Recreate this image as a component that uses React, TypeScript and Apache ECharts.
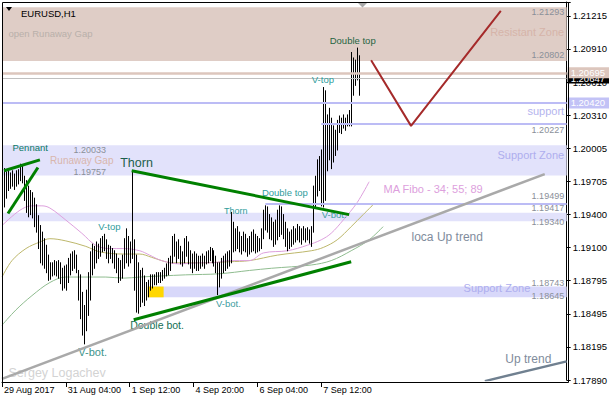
import React, { useEffect, useRef } from 'react';
import * as echarts from 'echarts';

const FONT = 'Liberation Sans';

// H1 bars: highs and lows (price)
const barHigh = [
  1.1976, 1.1982, 1.1979, 1.1980, 1.1978, 1.1980, 1.1977, 1.1980, 1.1981, 1.1986,
  1.1984, 1.1975, 1.1971, 1.1966, 1.1962, 1.1960, 1.1955, 1.1949, 1.1939, 1.1930,
  1.1924, 1.1918, 1.1912, 1.1903, 1.1896, 1.1896, 1.1898, 1.1897, 1.1898, 1.1896,
  1.1891, 1.1893, 1.1894, 1.1900, 1.1904, 1.1906, 1.1907, 1.1903, 1.1889, 1.1885,
  1.1869, 1.1857, 1.1871, 1.1887, 1.1906, 1.1913, 1.1911, 1.1915, 1.1913, 1.1918,
  1.1920, 1.1922, 1.1917, 1.1912, 1.1911, 1.1909, 1.1907, 1.1904, 1.1900, 1.1898,
  1.1903, 1.1918, 1.1927, 1.1920, 1.1915, 1.1980, 1.1917, 1.1903, 1.1896, 1.1889,
  1.1891, 1.1884, 1.1878, 1.1880, 1.1885, 1.1885, 1.1885, 1.1887, 1.1887, 1.1887,
  1.1889, 1.1891, 1.1895, 1.1900, 1.1902, 1.1920, 1.1922, 1.1915, 1.1917, 1.1911,
  1.1906, 1.1918, 1.1920, 1.1915, 1.1907, 1.1904, 1.1906, 1.1904, 1.1902, 1.1902,
  1.1904, 1.1902, 1.1906, 1.1907, 1.1910, 1.1909, 1.1907, 1.1902, 1.1896, 1.1896,
  1.1900, 1.1902, 1.1904, 1.1906, 1.1907, 1.1942, 1.1933, 1.1927, 1.1929, 1.1924,
  1.1920, 1.1924, 1.1922, 1.1918, 1.1920, 1.1924, 1.1926, 1.1922, 1.1920, 1.1918,
  1.1927, 1.1944, 1.1948, 1.1947, 1.1940, 1.1937, 1.1933, 1.1935, 1.1944, 1.1948,
  1.1947, 1.1940, 1.1933, 1.1927, 1.1924, 1.1926, 1.1929, 1.1927, 1.1931, 1.1929,
  1.1927, 1.1929, 1.1927, 1.1928, 1.1926, 1.1929, 1.1966, 1.1975, 1.1990, 1.1993,
  1.1999, 1.2056, 1.2053, 1.2031, 1.2037, 1.2028, 1.2021, 1.2017, 1.2026, 1.2030,
  1.2028, 1.2031, 1.2028, 1.2031, 1.2035, 1.2088, 1.2083, 1.2081, 1.2092, 1.2085,
];
const barLow = [
  1.1953, 1.1947, 1.1955, 1.1962, 1.1964, 1.1966, 1.1963, 1.1966, 1.1968, 1.1971,
  1.1969, 1.1953, 1.1942, 1.1938, 1.1940, 1.1937, 1.1929, 1.1924, 1.1909, 1.1896,
  1.1894, 1.1891, 1.1887, 1.1880, 1.1881, 1.1884, 1.1885, 1.1884, 1.1882, 1.1877,
  1.1871, 1.1873, 1.1871, 1.1878, 1.1885, 1.1889, 1.1891, 1.1887, 1.1862, 1.1845,
  1.1830, 1.1822, 1.1834, 1.1848, 1.1862, 1.1885, 1.1891, 1.1896, 1.1900, 1.1902,
  1.1906, 1.1907, 1.1900, 1.1896, 1.1900, 1.1896, 1.1891, 1.1887, 1.1878, 1.1880,
  1.1882, 1.1891, 1.1896, 1.1893, 1.1896, 1.1900, 1.1871, 1.1851, 1.1850, 1.1856,
  1.1860, 1.1857, 1.1862, 1.1865, 1.1871, 1.1873, 1.1876, 1.1876, 1.1878, 1.1878,
  1.1880, 1.1882, 1.1884, 1.1885, 1.1889, 1.1896, 1.1902, 1.1896, 1.1900, 1.1895,
  1.1893, 1.1896, 1.1902, 1.1895, 1.1891, 1.1887, 1.1891, 1.1889, 1.1889, 1.1891,
  1.1893, 1.1891, 1.1895, 1.1896, 1.1898, 1.1896, 1.1893, 1.1887, 1.1867, 1.1874,
  1.1882, 1.1887, 1.1889, 1.1891, 1.1893, 1.1896, 1.1906, 1.1907, 1.1909, 1.1906,
  1.1904, 1.1907, 1.1906, 1.1902, 1.1904, 1.1906, 1.1907, 1.1905, 1.1906, 1.1907,
  1.1909, 1.1918, 1.1926, 1.1924, 1.1918, 1.1917, 1.1911, 1.1913, 1.1917, 1.1920,
  1.1922, 1.1918, 1.1911, 1.1907, 1.1909, 1.1911, 1.1913, 1.1915, 1.1917, 1.1915,
  1.1913, 1.1917, 1.1915, 1.1917, 1.1914, 1.1911, 1.1924, 1.1946, 1.1957, 1.1962,
  1.1948, 1.1947, 1.1953, 1.1980, 1.1990, 1.1982, 1.1988, 1.1994, 1.1999, 1.2015,
  1.2014, 1.2019, 1.2017, 1.2021, 1.2021, 1.2021, 1.2049, 1.2058, 1.2063, 1.2049,
];

// Moving averages (MA Fibo 34 / 55 / 89): [bar index, price]
const ma34 = [
  [0, 1.1930], [9, 1.1944], [15, 1.1948], [20, 1.1948], [24, 1.1946], [32, 1.1935],
  [40, 1.1923], [47, 1.1912], [54, 1.1909], [61, 1.1909], [69, 1.1907], [74, 1.1903],
  [80, 1.1898], [89, 1.1895], [99, 1.1896], [105, 1.1896], [114, 1.1898], [124, 1.1898],
  [131, 1.1905], [143, 1.1907], [153, 1.1912], [160, 1.1917], [165, 1.1923], [171, 1.1935],
  [178, 1.1951], [184, 1.1970],
];
const ma55 = [
  [0, 1.1883], [5, 1.1898], [12, 1.1909], [19, 1.1915], [24, 1.1918], [32, 1.1916],
  [42, 1.1911], [49, 1.1906], [61, 1.1904], [69, 1.1904], [75, 1.1901], [80, 1.1898],
  [85, 1.1896], [100, 1.1896], [114, 1.1897], [124, 1.1898], [138, 1.1903], [155, 1.1907],
  [161, 1.1910], [168, 1.1917], [175, 1.1929], [181, 1.1940], [186, 1.1949],
];
const ma89 = [
  [0, 1.1839], [7, 1.1853], [15, 1.1866], [24, 1.1878], [32, 1.1883], [40, 1.1883],
  [52, 1.1883], [61, 1.1882], [69, 1.1883], [80, 1.1884], [92, 1.1885], [109, 1.1886],
  [124, 1.1889], [135, 1.1891], [155, 1.1894], [165, 1.1898], [175, 1.1907], [184, 1.1917],
  [191, 1.1929],
];

// Drawn trend lines: [bar index, price]
const pennantUpper = [[1, 1.1980], [19, 1.1990]];
const pennantLower = [[3, 1.1941], [18, 1.1983]];
const thornLine = [[65, 1.1980], [174, 1.1940]];
const doubleBotLine = [[66, 1.1844], [175, 1.1897]];
const localUpTrend = [[0, 1.1790], [272, 1.1977]];
const upTrend = [[242, 1.1788], [283, 1.1806]];
const projection = [[185, 1.2081], [205, 1.2021], [250, 1.2126]];

// Levels and zones
const resistZone = [1.20802, 1.21293];
const supportZoneUp = [1.19757, 1.20033];
const bandMid = [1.19340, 1.19417];
const supportZoneLow = [1.18645, 1.18743];
const levelRes = 1.20695;
const levelBid = 1.20647;
const levelSupport = 1.20420;
const level20227 = 1.20227;
const level19499 = 1.19499;

// Axis ticks
const yTickLabels = ['1.17890', '1.18195', '1.18495', '1.18795', '1.19100', '1.19400',
  '1.19705', '1.20005', '1.20310', '1.20610', '1.20910', '1.21215'];
const xTickLabels = ['29 Aug 2017', '31 Aug 04:00', '1 Sep 12:00', '4 Sep 20:00', '6 Sep 04:00', '7 Sep 12:00'];
const Y_MIN = 1.17890;
const Y_MAX = 1.21341;
const Y_STEP = 0.0030227;
const BARS_PER_LABEL = 32;
const N_SLOTS = 284;

// Annotations: text, bar index, price, anchor (l = text starts there, r = text ends there, c = centred)
const annotations = [
  { t: 'open Runaway Gap', i: 3, p: 1.2105, a: 'l', c: '#b9b0aa', s: 9.5 },
  { t: 'Resistant Zone', i: 282, p: 1.2107, a: 'r', c: '#d6b4a9', s: 11 },
  { t: '1.21293', i: 282, p: 1.2125, a: 'r', c: '#8a9099', s: 9 },
  { t: '1.20802', i: 282, p: 1.2086, a: 'r', c: '#8a9099', s: 9 },
  { t: 'support', i: 282, p: 1.2035, a: 'r', c: '#b4b4ee', s: 11 },
  { t: '1.20227', i: 282, p: 1.2017, a: 'r', c: '#8a9099', s: 9 },
  { t: 'Support Zone', i: 282, p: 1.1994, a: 'r', c: '#aeaeee', s: 11 },
  { t: '1.20033', i: 44, p: 1.1999, a: 'c', c: '#8a9099', s: 9 },
  { t: 'Runaway Gap', i: 40, p: 1.1989, a: 'c', c: '#d9b6ac', s: 10 },
  { t: '1.19757', i: 44, p: 1.1979, a: 'c', c: '#8a9099', s: 9 },
  { t: '1.19499', i: 282, p: 1.1957, a: 'r', c: '#8a9099', s: 9 },
  { t: '1.19417', i: 282, p: 1.1946, a: 'r', c: '#8a9099', s: 9 },
  { t: '1.19340', i: 282, p: 1.1933, a: 'r', c: '#8a9099', s: 9 },
  { t: 'MA Fibo - 34; 55; 89', i: 191, p: 1.1963, a: 'l', c: '#dda0dd', s: 11 },
  { t: 'loca Up trend', i: 205, p: 1.1920, a: 'l', c: '#7f8c9c', s: 12 },
  { t: '1.18743', i: 282, p: 1.1878, a: 'r', c: '#8a9099', s: 9 },
  { t: 'Support Zone', i: 265, p: 1.1873, a: 'r', c: '#aeaeee', s: 11 },
  { t: '1.18645', i: 282, p: 1.1866, a: 'r', c: '#8a9099', s: 9 },
  { t: 'Up trend', i: 252, p: 1.1808, a: 'l', c: '#7f8c9c', s: 12 },
  { t: 'Sergey Logachev', i: 3, p: 1.1795, a: 'l', c: '#d3d3d3', s: 12.5 },
  { t: 'Pennant', i: 5, p: 1.2001, a: 'l', c: '#0a7a66', s: 9.5 },
  { t: 'Thorn', i: 59, p: 1.1987, a: 'l', c: '#1d5e4c', s: 12.5 },
  { t: 'V-top', i: 48, p: 1.1929, a: 'l', c: '#2f9c9c', s: 9.5 },
  { t: 'V-bot.', i: 38, p: 1.1815, a: 'l', c: '#3d948c', s: 11 },
  { t: 'Double bot.', i: 64, p: 1.1839, a: 'l', c: '#137055', s: 10.5 },
  { t: 'Thorn', i: 111, p: 1.1943, a: 'l', c: '#2f9c9c', s: 9 },
  { t: 'Double top', i: 130, p: 1.1960, a: 'l', c: '#2f9c9c', s: 9.5 },
  { t: 'V-bot.', i: 160, p: 1.1940, a: 'l', c: '#3d9ca0', s: 9.5 },
  { t: 'V-bot.', i: 107, p: 1.1859, a: 'l', c: '#3d9ca0', s: 9.5 },
  { t: 'V-top', i: 155, p: 1.2063, a: 'l', c: '#2f9c9c', s: 9.5 },
  { t: 'Double top', i: 164, p: 1.2099, a: 'l', c: '#1f6442', s: 9.5 },
];

const MONTHS = ['Jan', 'Feb', 'Mar', 'Apr', 'May', 'Jun', 'Jul', 'Aug', 'Sep', 'Oct', 'Nov', 'Dec'];
function buildCategories(): string[] {
  const out: string[] = [];
  let t = Date.UTC(2017, 7, 29, 20);
  while (out.length < N_SLOTS) {
    const d = new Date(t);
    const wd = d.getUTCDay();
    if (wd !== 0 && wd !== 6) {
      const hh = String(d.getUTCHours()).padStart(2, '0');
      out.push(`${d.getUTCDate()} ${MONTHS[d.getUTCMonth()]} ${hh}:00`);
    }
    t += 3600000;
  }
  return out;
}

function trendSeries(data: number[][], color: string, width: number, z = 5) {
  return {
    type: 'line', data, z, symbol: 'none', silent: true,
    lineStyle: { color, width }, clip: true,
  };
}

function maSeries(data: number[][], color: string) {
  return {
    type: 'line', data, z: 3, symbol: 'none', smooth: 0.35, silent: true,
    lineStyle: { color, width: 1 },
  };
}

function priceTag(value: number, text: string, bg: string, lineColor: string, width: number) {
  return {
    yAxis: value,
    lineStyle: { color: lineColor, width, type: 'solid' },
    label: {
      show: true, position: 'end', distance: 1, formatter: text,
      backgroundColor: bg, color: '#fff', fontSize: 9.5, fontFamily: FONT,
      padding: [1, 4, 0, 3],
    },
  };
}

export default function App() {
  const ref = useRef<HTMLDivElement>(null);

  useEffect(() => {
    if (!ref.current) return;
    const chart = echarts.init(ref.current, undefined, { renderer: 'svg' });
    const categories = buildCategories();
    const tickOk = (i: number) => i % BARS_PER_LABEL === 0 && i / BARS_PER_LABEL < xTickLabels.length;

    const markPointData = annotations.map((a) => ({
      coord: [a.i, a.p],
      symbol: 'rect',
      symbolSize: 1,
      itemStyle: { color: 'rgba(0,0,0,0)' },
      label: {
        show: true,
        formatter: a.t,
        position: a.a === 'l' ? 'right' : a.a === 'r' ? 'left' : 'inside',
        distance: 0,
        color: a.c,
        fontSize: a.s,
        fontFamily: FONT,
      },
    }));

    const option: any = {
      animation: false,
      backgroundColor: '#fff',
      textStyle: { fontFamily: FONT },
      title: {
        text: 'EURUSD,H1', left: 16, top: 3,
        textStyle: { fontSize: 9.5, fontWeight: 'normal', color: '#000', fontFamily: FONT },
      },
      grid: { left: 2, right: 42, top: 2, bottom: 20, containLabel: false },
      xAxis: {
        type: 'category', data: categories, boundaryGap: false, offset: 2,
        axisLine: { show: true, lineStyle: { color: '#000', width: 1 } },
        axisTick: { show: true, interval: (i: number) => tickOk(i), length: 5, lineStyle: { color: '#000' } },
        axisLabel: {
          interval: (i: number) => tickOk(i),
          formatter: (_v: string, i: number) => xTickLabels[i / BARS_PER_LABEL] ?? '',
          align: 'left', margin: 3, padding: [0, 0, 0, 2],
          color: '#000', fontSize: 9, fontFamily: FONT,
        },
        splitLine: { show: false },
      },
      yAxis: {
        type: 'value', position: 'right', min: Y_MIN, max: Y_MAX, interval: Y_STEP,
        axisLine: { show: true, lineStyle: { color: '#000', width: 1 } },
        axisTick: { show: true, length: 4, lineStyle: { color: '#000' } },
        axisLabel: {
          margin: 6, color: '#000', fontSize: 9.5, fontFamily: FONT,
          formatter: (v: number) => {
            const k = (v - Y_MIN) / Y_STEP;
            const r = Math.round(k);
            return Math.abs(k - r) < 0.1 ? (yTickLabels[r] ?? '') : '';
          },
        },
        splitLine: { show: false },
      },
      series: [
        {
          type: 'line', data: [], z: 1, silent: true,
          markArea: {
            silent: true,
            data: [
              [{ yAxis: resistZone[0], itemStyle: { color: '#dfcdc6' } }, { yAxis: resistZone[1] }],
              [{ yAxis: supportZoneUp[0], itemStyle: { color: '#e2e2fb' } }, { yAxis: supportZoneUp[1] }],
              [{ yAxis: bandMid[0], itemStyle: { color: '#e2e2fb' } }, { yAxis: bandMid[1] }],
              [{ coord: [73, supportZoneLow[0]], itemStyle: { color: '#d8d8fa' } }, { coord: [283, supportZoneLow[1]] }],
              [{ coord: [73, supportZoneLow[0]], itemStyle: { color: '#ffd700' } }, { coord: [81, supportZoneLow[1]] }],
            ],
          },
        },
        maSeries(ma89, '#8fbc8f'),
        maSeries(ma55, '#bdb76b'),
        maSeries(ma34, '#dda0dd'),
        {
          type: 'custom', z: 4, clip: true, silent: true,
          data: barHigh.map((h, i) => [i, barLow[i], h]),
          encode: { x: 0, y: [1, 2] },
          renderItem: (_p: any, api: any) => {
            const lo = api.coord([api.value(0), api.value(1)]);
            const hi = api.coord([api.value(0), api.value(2)]);
            const x = Math.round(lo[0]) + 0.5;
            return {
              type: 'line',
              shape: { x1: x, y1: lo[1] + 0.5, x2: x, y2: hi[1] - 0.5 },
              style: { stroke: '#000', lineWidth: 1 },
            };
          },
        },
        {
          type: 'line', data: [], z: 5, silent: true,
          markLine: {
            silent: true, symbol: ['none', 'none'], precision: 5,
            data: [
              priceTag(levelBid, '1.20647', '#000', '#c0c0c0', 1),
              priceTag(levelRes, '1.20695', '#dcc6bd', '#dcc6bd', 2.5),
              priceTag(levelSupport, '1.20420', '#c2c2f6', '#bcbcf5', 2),
              [{ coord: [160, level20227], lineStyle: { color: '#bcbcf5', width: 2, type: 'solid' }, label: { show: false } }, { coord: [283, level20227] }],
              [{ coord: [132, level19499], lineStyle: { color: '#bcbcf5', width: 2, type: 'solid' }, label: { show: false } }, { coord: [283, level19499] }],
            ],
          },
        },
        trendSeries(localUpTrend, '#a9a9a9', 2.5),
        trendSeries(upTrend, '#708090', 2.5),
        trendSeries(pennantUpper, '#008000', 3, 6),
        trendSeries(pennantLower, '#008000', 3, 6),
        trendSeries(thornLine, '#008000', 3, 6),
        trendSeries(doubleBotLine, '#008000', 3, 6),
        trendSeries(projection, '#a52a2a', 2, 6),
        {
          type: 'line', data: [], z: 7, silent: true,
          markPoint: { silent: true, data: markPointData },
        },
      ],
      graphic: [
        { type: 'rect', z: 100, silent: true, shape: { x: 2.5, y: 2.5, width: 566, height: 380 }, style: { fill: 'none', stroke: '#000', lineWidth: 1 } },
        { type: 'polygon', z: 100, silent: true, shape: { points: [[6, 7], [12, 7], [9, 11]] }, style: { fill: '#000' } },
        { type: 'polygon', z: 100, silent: true, shape: { points: [[358, 3], [367, 3], [362.5, 7.5]] }, style: { fill: '#a8a8a8' } },
      ],
    };

    chart.setOption(option);
    return () => chart.dispose();
  }, []);

  return <div ref={ref} style={{ position: 'fixed', left: 0, top: 0, width: 610, height: 400 }} />;
}
